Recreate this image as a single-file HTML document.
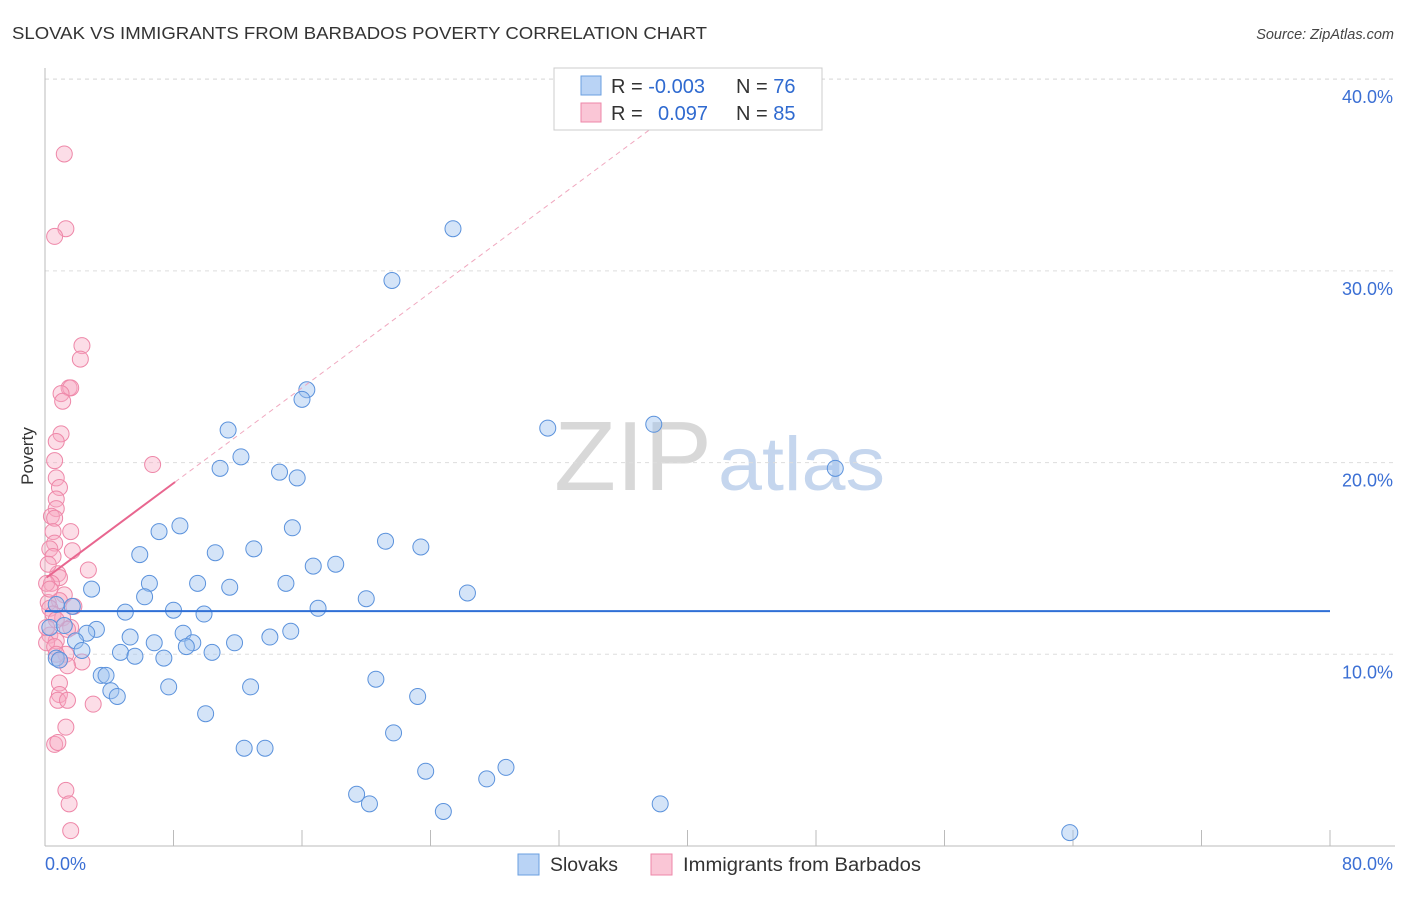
<!DOCTYPE html>
<html><head><meta charset="utf-8"><style>
body{margin:0;background:#fff;font-family:"Liberation Sans",sans-serif;}
svg text{font-family:"Liberation Sans",sans-serif;}
</style></head><body>
<svg id="chart" width="1406" height="892" xmlns="http://www.w3.org/2000/svg">
<text x="12" y="39" font-size="17.5" fill="#333" textLength="695" lengthAdjust="spacingAndGlyphs">SLOVAK VS IMMIGRANTS FROM BARBADOS POVERTY CORRELATION CHART</text>
<text x="1394" y="39" font-size="14.5" fill="#444" font-style="italic" text-anchor="end">Source: ZipAtlas.com</text>
<g>
<text x="554" y="490" font-size="98" fill="#d8d8d8" font-family="Liberation Serif, serif" textLength="158" lengthAdjust="spacingAndGlyphs">ZIP</text>
<text x="718" y="490" font-size="76" fill="#c5d6ee" textLength="167" lengthAdjust="spacingAndGlyphs">atlas</text>
</g>
<g id="grid"></g>
<g id="axes"></g>
<g id="marks"></g>
<g>
<rect x="554" y="68" width="268" height="62" fill="#fff" stroke="#ccc"/>
<rect x="581" y="76" width="20" height="19" fill="#b9d3f5" stroke="#6a9fe0"/>
<rect x="581" y="103" width="20" height="19" fill="#fac6d6" stroke="#ee87a8"/>
<text x="611" y="93" font-size="20" fill="#333">R = <tspan fill="#2f6ad0">-0.003</tspan></text>
<text x="736" y="93" font-size="20" fill="#333">N = <tspan fill="#2f6ad0">76</tspan></text>
<text x="611" y="120" font-size="20" fill="#333">R = </text>
<text x="658" y="120" font-size="20" fill="#2f6ad0">0.097</text>
<text x="736" y="120" font-size="20" fill="#333">N = <tspan fill="#2f6ad0">85</tspan></text>
</g>
<g>
<rect x="518" y="854" width="21" height="21" fill="#b9d3f5" stroke="#6a9fe0"/>
<text x="550" y="871" font-size="19" fill="#333" textLength="68" lengthAdjust="spacingAndGlyphs">Slovaks</text>
<rect x="651" y="854" width="21" height="21" fill="#fac6d6" stroke="#ee87a8"/>
<text x="683" y="871" font-size="19" fill="#333" textLength="238" lengthAdjust="spacingAndGlyphs">Immigrants from Barbados</text>
</g>
<text transform="translate(33,456) rotate(-90)" font-size="17" fill="#333" text-anchor="middle">Poverty</text>
</svg>
<script>
const yTicks=[10,20,30,40];
const yTickLabels=["10.0%","20.0%","30.0%","40.0%"];
const xTickVals=[0,8,16,24,32,40,48,56,64,72,80];
const slovakX=[25.4,21.6,16.3,16.0,11.4,12.2,10.9,14.6,15.7,31.3,37.9,49.2,8.4,7.1,5.9,10.6,13.0,15.4,21.2,23.4,16.7,18.1,6.5,9.5,11.5,15.0,6.2,2.9,5.0,8.0,9.9,17.0,20.0,26.3,0.7,1.7,3.2,2.6,5.3,8.6,6.8,9.2,11.8,14.0,15.3,1.9,2.3,4.7,5.6,7.4,8.8,10.4,0.7,0.9,3.5,3.8,4.1,4.5,7.7,12.8,20.6,23.2,10.0,21.7,12.4,13.7,23.7,27.5,28.7,19.4,20.2,24.8,38.3,63.8,0.3,1.2];
const slovakY=[32.2,29.5,23.8,23.3,21.7,20.3,19.7,19.5,19.2,21.8,22.0,19.7,16.7,16.4,15.2,15.3,15.5,16.6,15.9,15.6,14.6,14.7,13.7,13.7,13.5,13.7,13.0,13.4,12.2,12.3,12.1,12.4,12.9,13.2,12.6,12.5,11.3,11.1,10.9,11.1,10.6,10.6,10.6,10.9,11.2,10.7,10.2,10.1,9.9,9.8,10.4,10.1,9.8,9.7,8.9,8.9,8.1,7.8,8.3,8.3,8.7,7.8,6.9,5.9,5.1,5.1,3.9,3.5,4.1,2.7,2.2,1.8,2.2,0.7,11.4,11.5];
const barbX=[1.2,1.3,0.6,2.3,2.2,1.5,1.6,1.0,1.1,1.0,0.7,0.6,0.7,0.9,0.7,0.7,0.4,0.6,1.6,0.5,0.6,1.7,0.3,0.5,2.7,0.8,0.9,0.4,0.1,1.2,0.9,1.8,0.2,0.3,0.5,1.1,1.6,1.4,0.3,0.7,0.1,0.6,1.3,0.7,2.3,1.4,0.9,0.9,0.8,1.4,3.0,1.3,0.6,0.8,1.3,1.5,1.6,6.7,0.7,0.2,0.3,0.1,0.9];
const barbY=[36.1,32.2,31.8,26.1,25.4,23.9,23.9,23.6,23.2,21.5,21.1,20.1,19.2,18.7,18.1,17.6,17.2,17.1,16.4,16.4,15.8,15.4,15.5,15.1,14.4,14.2,14.0,13.7,13.7,13.1,12.8,12.5,12.7,12.4,12.1,11.9,11.4,11.3,11.0,10.7,10.6,10.4,10.0,10.0,9.6,9.4,8.5,7.9,7.6,7.6,7.4,6.2,5.3,5.4,2.9,2.2,0.8,19.9,11.8,14.7,13.4,11.4,9.7];
const slovakTrend=[12.25,12.25];
const barbTrend=[13.95,0.622];
const X0=45,X1=1330,Y0=846,PPY=19.17;
const sx=v=>X0+(X1-X0)*v/80;
const sy=v=>Y0-v*PPY;
const NS="http://www.w3.org/2000/svg";
function mk(parent,tag,attrs){const e=document.createElementNS(NS,tag);for(const k in attrs)e.setAttribute(k,attrs[k]);document.getElementById(parent).appendChild(e);return e;}
yTicks.forEach((t,i)=>{
 const l=mk('grid','line',{x1:X0,x2:1393,y1:sy(t),y2:sy(t),stroke:'#ddd','stroke-dasharray':'4,4'});
 
 
 const tx=mk('grid','text',{x:1393,y:sy(t)+24,'font-size':18,fill:'#3b6fd4','text-anchor':'end'});
 tx.textContent=yTickLabels[i];
 
 
});
const topLine=mk('grid','line',{x1:X0,x2:1393,y1:79,y2:79,stroke:'#ddd','stroke-dasharray':'4,4'});


const ya=mk('axes','line',{x1:X0,x2:X0,y1:68,y2:Y0,stroke:'#bbb'});


const xa=mk('axes','line',{x1:X0,x2:1395,y1:Y0,y2:Y0,stroke:'#bbb'});


xTickVals.forEach(v=>{const t=mk('axes','line',{x1:sx(v),x2:sx(v),y1:830,y2:Y0,stroke:'#bbb'});
 
 });
const xl0=mk('axes','text',{x:45,y:870,'font-size':18,fill:'#3b6fd4'});xl0.textContent='0.0%';


const xl1=mk('axes','text',{x:1393,y:870,'font-size':18,fill:'#3b6fd4','text-anchor':'end'});xl1.textContent='80.0%';


barbX.forEach((x,i)=>{const c=mk('marks','circle',{cx:sx(x),cy:sy(barbY[i]),r:8,fill:'rgba(247,170,195,0.4)',stroke:'#ee87a8','stroke-width':1});
 
 });
slovakX.forEach((x,i)=>{const c=mk('marks','circle',{cx:sx(x),cy:sy(slovakY[i]),r:8,fill:'rgba(160,195,240,0.45)',stroke:'#5b92dc','stroke-width':1});
 
 });
const st=mk('marks','line',{x1:sx(0),x2:sx(80),y1:sy(slovakTrend[0]),y2:sy(slovakTrend[1]),stroke:'#2f6fd6','stroke-width':2});


const bt=mk('marks','line',{x1:sx(0.1),x2:sx(8.1),y1:sy(barbTrend[0]+barbTrend[1]*0.1),y2:sy(barbTrend[0]+barbTrend[1]*8.1),stroke:'#e8668f','stroke-width':2});


const xe=(40-barbTrend[0])/barbTrend[1];
const bd=mk('marks','line',{x1:sx(8.1),x2:sx(xe),y1:sy(barbTrend[0]+barbTrend[1]*8.1),y2:sy(40),stroke:'#f0a8bf','stroke-width':1,'stroke-dasharray':'5,4'});


</script>
</body></html>
